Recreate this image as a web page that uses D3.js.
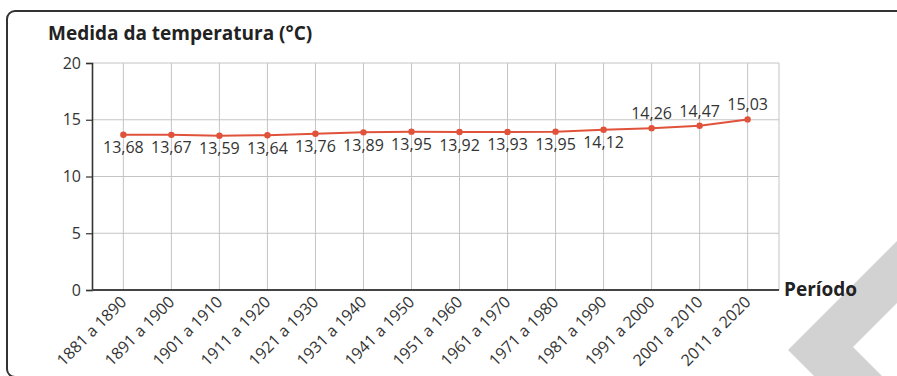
<!DOCTYPE html>
<html>
<head>
<meta charset="utf-8">
<script src="https://cdn.jsdelivr.net/npm/d3@7"></script>
<style>
  html, body { margin: 0; padding: 0; background: #fff; }
  svg { display: block; }
</style>
</head>
<body>
<svg id="chart" width="897" height="376"></svg>
<script>
// Décadas e temperatura média (°C)
const periods = [
  "1881 a 1890", "1891 a 1900", "1901 a 1910", "1911 a 1920", "1921 a 1930",
  "1931 a 1940", "1941 a 1950", "1951 a 1960", "1961 a 1970", "1971 a 1980",
  "1981 a 1990", "1991 a 2000", "2001 a 2010", "2011 a 2020"
];
const temperatures = [13.68, 13.67, 13.59, 13.64, 13.76, 13.89, 13.95, 13.92, 13.93, 13.95, 14.12, 14.26, 14.47, 15.03];
const yTicks = [0, 5, 10, 15, 20];
const titleText = "Medida da temperatura (°C)";
const xAxisTitle = "Período";

const svg = d3.select("#chart");
const fmt = v => d3.format(".2f")(v).replace(".", ",");

const plot = { left: 92, right: 779, top: 63, bottom: 290 };

const x = d3.scalePoint()
  .domain(periods)
  .range([plot.left, plot.right])
  .padding(0.653);

const y = d3.scaleLinear()
  .domain([0, 20])
  .range([plot.bottom, plot.top]);

// decorative mark in the lower right corner
svg.append("polygon")
  .attr("points", "788,350 897,241 897,303 853,347 882,376 814,376")
  .attr("fill", "#d2d2d2");

// outer frame
svg.append("rect")
  .attr("x", 7).attr("y", 11)
  .attr("width", 910).attr("height", 366)
  .attr("rx", 8)
  .attr("fill", "none")
  .attr("stroke", "#333")
  .attr("stroke-width", 2);

// title
svg.append("text")
  .attr("x", 48).attr("y", 40)
  .attr("font-family", "'Open Sans', sans-serif")
  .attr("font-weight", 700)
  .attr("font-size", 19)
  .attr("fill", "#222")
  .text(titleText);

// grid: horizontal
svg.append("g")
  .selectAll("line")
  .data(yTicks.filter(d => d > 0))
  .join("line")
  .attr("x1", plot.left).attr("x2", plot.right)
  .attr("y1", d => y(d)).attr("y2", d => y(d))
  .attr("stroke", "#c4c4c4").attr("stroke-width", 1);

// grid: vertical at each period
svg.append("g")
  .selectAll("line")
  .data(periods)
  .join("line")
  .attr("x1", d => x(d)).attr("x2", d => x(d))
  .attr("y1", plot.top).attr("y2", plot.bottom)
  .attr("stroke", "#c4c4c4").attr("stroke-width", 1);

// right border of plot
svg.append("line")
  .attr("x1", plot.right).attr("x2", plot.right)
  .attr("y1", plot.top).attr("y2", plot.bottom)
  .attr("stroke", "#c4c4c4").attr("stroke-width", 1);

// y axis
const yAxis = d3.axisLeft(y).tickValues(yTicks).tickSize(6).tickPadding(5);
const gy = svg.append("g")
  .attr("transform", `translate(${plot.left},0)`)
  .call(yAxis);
gy.select(".domain").attr("stroke", "#333").attr("stroke-width", 1.6);
gy.selectAll(".tick line").attr("stroke", "#333").attr("stroke-width", 1.2);
gy.selectAll(".tick text")
  .attr("font-family", "'Open Sans', sans-serif")
  .attr("font-size", 16)
  .attr("fill", "#333");

// x axis baseline
svg.append("line")
  .attr("x1", plot.left).attr("x2", plot.right)
  .attr("y1", y(0)).attr("y2", y(0))
  .attr("stroke", "#444").attr("stroke-width", 1.8);

// x tick labels, rotated
svg.append("g")
  .selectAll("text")
  .data(periods)
  .join("text")
  .attr("transform", d => `translate(${x(d) + 4},${plot.bottom + 13}) rotate(-45)`)
  .attr("text-anchor", "end")
  .attr("font-family", "'Open Sans', sans-serif")
  .attr("font-size", 16)
  .attr("fill", "#333")
  .text(d => d);

// x axis title
svg.append("text")
  .attr("x", 784).attr("y", 296)
  .attr("font-family", "'Open Sans', sans-serif")
  .attr("font-weight", 700)
  .attr("font-size", 19)
  .attr("fill", "#222")
  .text(xAxisTitle);

// line series
const pts = periods.map((p, i) => ({ p, v: temperatures[i] }));
svg.append("path")
  .datum(pts)
  .attr("fill", "none")
  .attr("stroke", "#e0523a")
  .attr("stroke-width", 2)
  .attr("d", d3.line().x(d => x(d.p)).y(d => y(d.v)));

svg.append("g")
  .selectAll("circle")
  .data(pts)
  .join("circle")
  .attr("cx", d => x(d.p)).attr("cy", d => y(d.v))
  .attr("r", 3.2)
  .attr("fill", "#e0523a");

// value labels: below the line for the earlier decades, above for the last three
svg.append("g")
  .selectAll("text")
  .data(pts)
  .join("text")
  .attr("x", d => x(d.p))
  .attr("y", (d, i) => i >= 11 ? y(d.v) - 9 : y(d.v) + 18.5)
  .attr("text-anchor", "middle")
  .attr("font-family", "'Open Sans', sans-serif")
  .attr("font-size", 16)
  .attr("fill", "#333")
  .text(d => fmt(d.v));
</script>
</body>
</html>
